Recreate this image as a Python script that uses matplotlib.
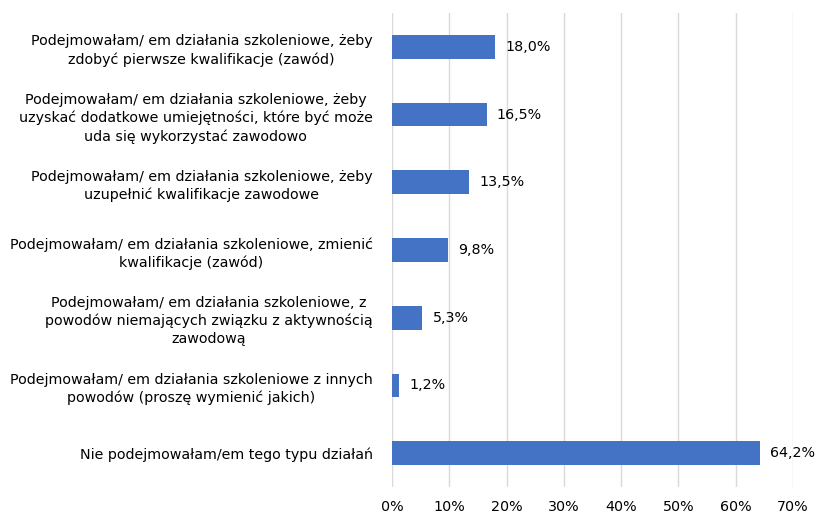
import matplotlib
matplotlib.use("Agg")
import matplotlib.pyplot as plt
import numpy as np

# dane (od góry do dołu)
categories = [
    "Podejmowałam/ em działania szkoleniowe, żeby\nzdobyć pierwsze kwalifikacje (zawód)",
    "Podejmowałam/ em działania szkoleniowe, żeby\nuzyskać dodatkowe umiejętności, które być może\nuda się wykorzystać zawodowo",
    "Podejmowałam/ em działania szkoleniowe, żeby\nuzupełnić kwalifikacje zawodowe",
    "Podejmowałam/ em działania szkoleniowe, zmienić\nkwalifikacje (zawód)",
    "Podejmowałam/ em działania szkoleniowe, z\npowodów niemających związku z aktywnością\nzawodową",
    "Podejmowałam/ em działania szkoleniowe z innych\npowodów (proszę wymienić jakich)",
    "Nie podejmowałam/em tego typu działań",
]
values = [18.0, 16.5, 13.5, 9.8, 5.3, 1.2, 64.2]
xticks = [0, 10, 20, 30, 40, 50, 60, 70]

plt.rcParams['font.family'] = ['DejaVu Sans']
fs = 10.3

fig = plt.figure(figsize=(8.17, 5.18), dpi=100)
ax = fig.add_axes([0.4798, 0.0598, 0.4908, 0.9151])

y = np.arange(len(values))
ax.barh(y, values, height=0.35, color='#4472C4', zorder=3)

# etykiety wartości
for yi, v in zip(y, values):
    ax.text(v + 1.8, yi, f"{v:.1f}%".replace('.', ','), va='center', ha='left',
            fontsize=fs, color='#000000')

ax.set_ylim(len(values) - 0.5, -0.5)
ax.set_xlim(0, 70)
ax.set_xticks(xticks)
ax.set_xticklabels([f"{t}%" for t in xticks], fontsize=fs)
ax.set_yticks(y)
ax.set_yticklabels(categories, fontsize=fs, multialignment='center', linespacing=1.35)
ax.tick_params(axis='both', length=0)
ax.tick_params(axis='x', pad=9)
ax.tick_params(axis='y', pad=14)
ax.grid(axis='x', color='#d9d9d9', linewidth=1, zorder=0)
for s in ['top', 'right', 'bottom', 'left']:
    ax.spines[s].set_visible(False)

fig.savefig("out.png", dpi=100)
